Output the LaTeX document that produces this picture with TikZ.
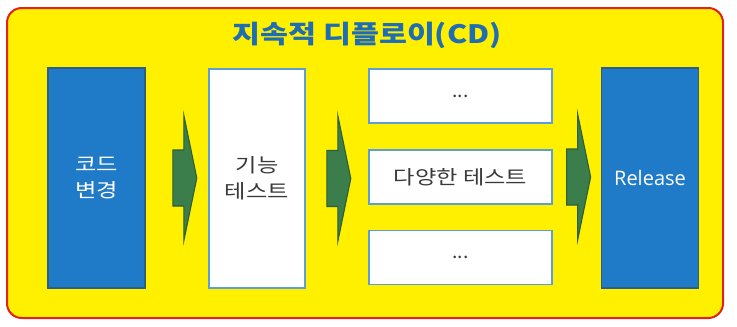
\documentclass[tikz,border=0pt]{standalone}
\usepackage{fontspec}
\usepackage{graphicx}
\setmainfont{Noto Sans CJK KR}
\newfontfamily\latfont{Open Sans}
\usetikzlibrary{positioning,calc}
\definecolor{cdyellow}{HTML}{FFF000}
\definecolor{cdred}{HTML}{E3231B}
\definecolor{cdblue}{HTML}{1F7AC7}
\definecolor{cdblueline}{HTML}{2D5F86}
\definecolor{cdlight}{HTML}{5E9ED6}
\definecolor{cdgreen}{HTML}{3C7D4C}
\definecolor{cdgreenline}{HTML}{2C5E38}
\definecolor{cdtitle}{HTML}{1F6DB3}
\definecolor{cdtext}{HTML}{3A3A3A}
\newcommand{\kwide}[1]{\scalebox{1.2}[1]{#1}}

\begin{document}
\begin{tikzpicture}[x=0.75pt,y=-0.75pt,
    bigbox/.style={draw=cdblueline,line width=1.2pt,fill=cdblue,minimum width=72.75pt,minimum height=165pt,
      text=white,align=center,font=\fontsize{14.5}{19.5}\selectfont},
    whitebox/.style={draw=cdlight,line width=1.2pt,fill=white,text=cdtext,align=center,
      font=\fontsize{14.5}{19.5}\selectfont},
    testbox/.style={whitebox,minimum width=137pt,minimum height=40.5pt},
    blockarr/.pic={\draw[fill=cdgreen,draw=cdgreenline,line width=0.8pt]
      (0,-28) -- (11,-28) -- (11,-63) -- (24,0) -- (11,63) -- (11,28) -- (0,28) -- cycle;}
]
\useasboundingbox (0,0) rectangle (737,326);
\draw[fill=cdyellow,draw=cdred,line width=1.5pt,rounded corners=11pt] (7,8) rectangle (723,318);
\node[font=\fontsize{19}{22}\selectfont\bfseries,text=cdtitle] (title) at (367,35) {\kwide{지속적 디플로이(CD)}};

\node[bigbox] (code) at (96.5,178) {\kwide{코드}\\\kwide{변경}};
\node[whitebox,minimum width=72pt,minimum height=164pt] (func) at (257,178.5) {\kwide{기능}\\\kwide{테스트}};
\node[testbox] (t1) at (460.5,96) {...};
\node[testbox] (t2) at (460.5,177) {\kwide{다양한 테스트}};
\node[testbox] (t3) at (460.5,257.5) {...};
\node[bigbox,font=\latfont\fontsize{15}{18}\selectfont] (rel) at (650,178) {Release};

\pic at ($(code.east)+(27,0)$) {blockarr};
\pic at ($(func.east)+(21,0)$) {blockarr};
\pic at ($(t2.east)+(14,0)$) {blockarr};
\end{tikzpicture}
\end{document}
